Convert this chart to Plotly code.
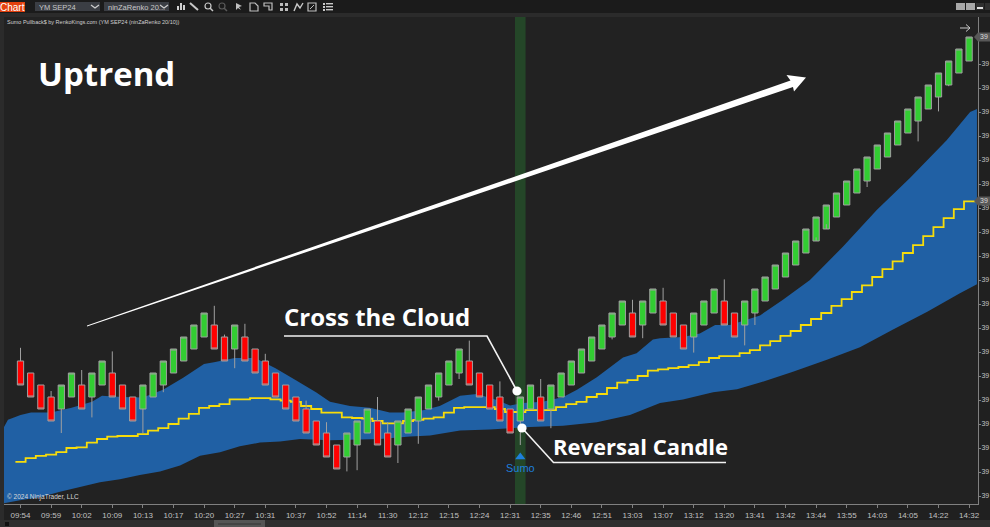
import plotly.graph_objects as go

# ---------- data ----------
time_labels = ["09:54","09:59","10:02","10:09","10:13","10:17","10:20","10:27","10:31","10:37","10:52",
               "11:14","11:30","12:12","12:15","12:24","12:31","12:35","12:46","12:51","13:03","13:07",
               "13:12","13:20","13:41","13:42","13:44","13:55","14:03","14:05","14:22","14:32"]

body_top = [39110,39100,39090,39080,39090,39100,39090,39100,39110,39100,39090,39080,39090,39100,39110,39120,
            39130,39140,39150,39140,39130,39140,39130,39120,39110,39100,39090,39080,39070,39060,39050,39040,
            39050,39060,39070,39060,39050,39060,39070,39080,39090,39100,39110,39120,39110,39100,39090,39080,
            39070,39080,39090,39080,39090,39100,39110,39120,39130,39140,39150,39160,39150,39160,39170,39160,
            39150,39140,39150,39160,39170,39160,39150,39160,39170,39180,39190,39200,39210,39220,39230,39240,
            39250,39260,39270,39280,39290,39300,39310,39320,39330,39340,39350,39360,39370,39380]
bar_is_up = [0,0,0,0,1,1,0,1,1,0,0,0,1,1,1,1,1,1,1,0,0,1,0,0,0,0,0,0,0,0,0,0,
             1,1,1,0,0,1,1,1,1,1,1,1,0,0,0,0,0,1,1,0,1,1,1,1,1,1,1,1,0,1,1,0,
             0,0,1,1,1,0,0,1,1,1,1,1,1,1,1,1,1,1,1,1,1,1,1,1,1,1,1,1,1,1]
brick_size = 20
upper_wicks = {0:39121,3:39085,6:39102.5,9:39118,19:39156,20:39132,22:39141,24:39116,28:39077,30:39059,35:39080,
               36:39059,44:39127,47:39093,51:39095,60:39161,63:39171,69:39178}
lower_wicks = {4:39050,7:39063,12:39050,14:39084,21:39104,32:39018,33:39019,37:39025,39:39041,41:39077,43:39095,
               49:39040,52:39054,58:39128,61:39129,66:39117,71:39123,72:39140,78:39213,79:39224,83:39255,
               88:39293,90:39318,91:39339}

yellow_line = [39026,39029,39031,39032,39034,39037.5,39038,39042,39045,39047,39047.5,39047.5,39049,39052,39054,
               39057.5,39062,39066,39071,39072.5,39074,39078,39078,39079,39079,39078,39077,39076,39072.5,39070,39067,
               39067,39063,39062.5,39062,39060,39058,39058,39060,39061,39062,39063,39067,39071,39071.5,39071.5,39071.5,
               39070,39067.5,39067.5,39069,39069,39069,39071.5,39074,39076,39080,39082.5,39087.5,39092,39094,39097.5,39102,
               39103,39104,39105,39106.5,39109,39112.5,39114,39114,39116.5,39119,39123,39126.5,39131,39135,39140,39145,
               39150,39156,39161.5,39167.5,39173,39180,39186.5,39193,39200,39206.5,39214,39221.5,39229,39236.5,39243]

cloud_upper_x = [-1.62,-1.23,-0.64,0,1.03,2.99,5,7.01,7.99,10,12,13.97,15.95,17.99,18.97,21,23,25,27,28.97,30.34,32.3,
                 34.26,36.2,37.5,39.46,41.1,43.1,44.75,46.7,47.99,49.26,51.2,53.2,54.56,56.5,59.07,60.4,62,62.7,64.95,
                 66.6,68.1,69.56,72.5,74.75,77.4,80.6,83.97,87.2,90.8,93.1,93.77]
cloud_upper = [39055,39061,39063,39065,39067,39067,39071,39076,39081,39080,39079.5,39086,39096,39107.5,39109,39112.5,
               39112.5,39104,39094,39084,39076,39072.5,39071,39067,39067,39069,39072.5,39081,39082.5,39077.5,39073,39075,
               39076,39080,39086,39096.5,39113,39116.5,39128,39129,39130,39133,39140,39140,39148,39161,39177.5,39205,
               39236,39262.5,39294,39317.5,39320]
cloud_lower_x = [-1.62,-0.05,1.91,3.87,5.83,7.79,9.75,11.7,13.68,15.64,17.6,19.56,21.5,23.48,25.44,27.4,30.34,35.25,38.2,
                 40.15,43.1,46,48,49.95,53.2,56.5,59.75,62.7,64.95,67.9,70.25,72.5,75.73,79.06,82.3,85.5,88.9,92.1,93.77]
cloud_lower = [38991.5,38994,38996.5,39001,39005,39009,39011.5,39015,39018,39023,39031,39034,39039,39042,39043,39045,
               39044,39045,39047,39048,39052,39053,39054,39055,39056,39059,39065,39075,39078,39084,39086.5,39092,39101,
               39111,39121.5,39136,39151,39166.5,39174]

price_ticks = [39357.5 - 20 * k for k in range(19)]
signal_bar = 49
signal_price = 39030

# ---------- layout constants ----------
W, H = 990, 527
L, R, T, B = 4, 978, 17, 504
X_RANGE = [(L - 20.5) / 10.2, (R - 20.5) / 10.2]
Y_RANGE = [39380 - (B - 37) / 1.2, 39380 + (37 - T) / 1.2]
X_DOMAIN = [L / W, R / W]
Y_DOMAIN = [1 - B / H, 1 - T / H]

def px(x): return x / W
def py(y): return 1 - y / H

bars = list(range(len(body_top)))
opens, closes, highs, lows = [], [], [], []
for i in bars:
    top, bot = body_top[i], body_top[i] - brick_size
    opens.append(bot if bar_is_up[i] else top)
    closes.append(top if bar_is_up[i] else bot)
    highs.append(upper_wicks.get(i, top))
    lows.append(lower_wicks.get(i, bot))

fig = go.Figure()
fig.add_trace(go.Scatter(x=cloud_upper_x + cloud_lower_x[::-1], y=cloud_upper + cloud_lower[::-1],
                         fill="toself", fillcolor="#2060a4", mode="none", hoverinfo="skip", showlegend=False))
fig.add_trace(go.Scatter(x=[-0.5] + bars + [93.75], y=[yellow_line[0]] + yellow_line + [yellow_line[-1]],
                         mode="lines", line=dict(color="#f7dc0a", width=1.8, shape="hvh"), showlegend=False))
fig.add_trace(go.Candlestick(x=bars, open=opens, high=highs, low=lows, close=closes,
                             xaxis="x2", yaxis="y2", whiskerwidth=0, showlegend=False,
                             increasing=dict(fillcolor="#32cd32", line=dict(color="#a0a0a0", width=1)),
                             decreasing=dict(fillcolor="#ff0000", line=dict(color="#a0a0a0", width=1))))
fig.add_trace(go.Scatter(x=[signal_bar], y=[signal_price], mode="markers+text", xaxis="x2", yaxis="y2",
                         marker=dict(symbol="triangle-up", size=9, color="#1e7fdc"),
                         text=["Sumo"], textposition="bottom center",
                         textfont=dict(family="Liberation Sans", size=11, color="#1e7fdc"), showlegend=False))

shapes = []
def rect(x0, y0, x1, y1, color):
    shapes.append(dict(type="rect", xref="paper", yref="paper", x0=px(x0), x1=px(x1), y0=py(y0), y1=py(y1),
                       fillcolor=color, line=dict(width=0), layer="above"))
def path(points, color=None, line=None, width=1.5, close=False):
    d = "M " + " L ".join(f"{px(x):.5f},{py(y):.5f}" for x, y in points) + (" Z" if close else "")
    shapes.append(dict(type="path", xref="paper", yref="paper", path=d, layer="above",
                       fillcolor=color if color else "rgba(0,0,0,0)",
                       line=dict(color=line if line else "rgba(0,0,0,0)", width=width if line else 0)))
def dot(x, y, r, color):
    shapes.append(dict(type="circle", xref="paper", yref="paper", x0=px(x - r), x1=px(x + r), y0=py(y + r), y1=py(y - r),
                       fillcolor=color, line=dict(width=0), layer="above"))

# highlighted signal bar (behind everything)
shapes.append(dict(type="rect", xref="x", yref="paper", x0=signal_bar - 0.52, x1=signal_bar + 0.52,
                   y0=py(B), y1=py(T), fillcolor="#244628", line=dict(width=0), layer="below"))

# window chrome
rect(0, 0, 990, 13, "#1b1b1b")
rect(0, 13, 990, 17, "#2b2b2b")
rect(0, 13, 4, 520, "#2b2b2b")
rect(0, 520, 990, 527, "#2f2f2f")
rect(214, 520, 265, 527, "#555555")
rect(218, 523, 261, 525, "#444444")
rect(5, 522, 9, 526, "#111111")
rect(0, 2, 25, 12, "#e2410e")
rect(35, 2, 100, 11, "#3b3e44")
rect(104, 2, 169, 11, "#3b3e44")
path([(91, 5), (95, 8), (99, 5)], line="#cfcfcf", width=1.2)
path([(160, 5), (164, 8), (168, 5)], line="#cfcfcf", width=1.2)
# toolbar icons
for bx, by0, by1 in [(177, 6, 10), (180, 3, 10), (183, 5, 10)]:
    rect(bx, by0, bx + 2, by1, "#d0d0d0")
path([(190, 3), (198, 10)], line="#c8c8c8", width=2)
for cx, c in [(208, "#c8c8c8"), (222, "#5a5a5a")]:
    shapes.append(dict(type="circle", xref="paper", yref="paper", x0=px(cx - 3), x1=px(cx + 3), y0=py(9), y1=py(3),
                       line=dict(color=c, width=1.2), layer="above"))
    path([(cx + 2, 8), (cx + 5, 11)], line=c, width=1.5)
path([(236, 3), (236, 10), (238, 8), (241, 10), (239, 7), (242, 6)], color="#c0c0c0", close=True)
path([(250, 3), (255, 3), (258, 6), (258, 11), (250, 11)], line="#c0c0c0", width=1.2, close=True)
path([(264, 3), (272, 3), (272, 10), (269, 10), (269, 6), (264, 6)], line="#c0c0c0", width=1.2, close=True)
rect(280, 3, 283, 6, "#bcbcbc"); rect(285, 3, 288, 6, "#bcbcbc"); rect(280, 8, 283, 11, "#bcbcbc"); rect(285, 8, 288, 11, "#bcbcbc")
path([(294, 11), (297, 4), (300, 8), (303, 3)], line="#c8c8c8", width=1.4)
path([(308, 3), (316, 3), (316, 11), (308, 11)], line="#c0c0c0", width=1.2, close=True)
path([(310, 9), (314, 5)], line="#c0c0c0", width=1)
for ry in (3, 6, 9):
    rect(323, ry, 325, ry + 2, "#c8c8c8")
    rect(326, ry, 333, ry + 1.4, "#c8c8c8")
rect(956, 3, 965, 10, "#a8a8a8"); rect(966, 3, 975, 10, "#a8a8a8")
rect(976, 3, 984, 10, "#303030"); rect(977, 7, 983, 9, "#e0e0e0")
rect(985, 3, 990, 10, "#303030")

# trend arrow
path([(87, 325.5), (790.5, 80.5), (786.5, 75), (806, 77.5), (794, 91.5), (793, 87), (87, 326.5)], color="#ffffff", close=True)

# callouts
path([(284, 336), (487, 336), (517, 391)], line="#f2f2f2", width=1.6)
dot(517, 391, 4.6, "#ffffff")
path([(522, 428), (553.5, 462.5), (726, 462.5)], line="#f2f2f2", width=1.6)
dot(522, 428, 4.6, "#ffffff")

# last-price tags
for ty in (37, 201):
    path([(974, ty), (978, ty - 4.5), (990, ty - 4.5), (990, ty + 4.5), (978, ty + 4.5)], color="#585858", close=True)
# small arrow top right
path([(960, 28), (970, 28)], line="#c8c8c8", width=1)
path([(966, 24.5), (970, 28), (966, 31.5)], line="#c8c8c8", width=1)

def note(x, y, text, size, color, family="Liberation Sans", weight=None, anchor="left"):
    font = dict(family=family, size=size, color=color)
    if weight:
        font["weight"] = weight
    return dict(xref="paper", yref="paper", x=px(x), y=py(y), text=text, showarrow=False, xanchor=anchor,
                yanchor="middle", font=font, borderpad=0)

annotations = [
    note(37, 73, "Uptrend", 33, "#ffffff", "Open Sans", 700),
    note(283, 316.5, "Cross the Cloud", 24, "#ffffff", "Open Sans", 700),
    note(552, 445.5, "Reversal Candle", 22, "#ffffff", "Open Sans", 700),
    note(6, 22, "Sumo Pullback$ by RenkoKings.com (YM SEP24 (ninZaRenko 20/10))", 5.5, "#d0d0d0"),
    note(6, 497, "© 2024 NinjaTrader, LLC", 6.5, "#d8d8d8"),
    note(12.5, 7, "Chart", 10, "#ffffff", anchor="center"),
    note(38, 7, "YM SEP24", 7.5, "#c8c8c8"),
    note(107, 7, "ninZaRenko 20...", 7.5, "#c8c8c8"),
    note(984, 37, "39", 7, "#d8d8d8", anchor="center"),
    note(984, 200, "39", 7, "#d8d8d8", anchor="center"),
]

axis_color = "#808080"
fig.update_layout(
    width=W, height=H,
    margin=dict(l=0, r=0, t=0, b=0, pad=0, autoexpand=False),
    paper_bgcolor="#202020", plot_bgcolor="#222222",
    showlegend=False, boxgap=0.12, hovermode=False,
    shapes=shapes, annotations=annotations,
    xaxis=dict(domain=X_DOMAIN, range=X_RANGE, showgrid=False, zeroline=False, tickmode="array",
               tickvals=bars[::3], ticktext=time_labels, ticks="outside", ticklen=3, tickcolor=axis_color,
               tickfont=dict(family="Liberation Sans", size=8, color="#c0c0c0"),
               showline=True, linecolor=axis_color, linewidth=1, rangeslider=dict(visible=False)),
    yaxis=dict(domain=Y_DOMAIN, range=Y_RANGE, side="right", showgrid=False, zeroline=False, tickmode="array",
               tickvals=price_ticks, ticktext=["39"] * len(price_ticks), ticks="outside", ticklen=2,
               ticklabelstandoff=-1, tickcolor=axis_color,
               tickfont=dict(family="Liberation Sans", size=7, color="#c0c0c0"),
               showline=True, linecolor=axis_color, linewidth=1),
    xaxis2=dict(domain=X_DOMAIN, range=X_RANGE, overlaying="x", anchor="y2", visible=False, rangeslider=dict(visible=False)),
    yaxis2=dict(domain=Y_DOMAIN, range=Y_RANGE, overlaying="y", anchor="x2", visible=False),
)

fig.write_html("out.html", config=dict(displayModeBar=False),
               post_script="document.body.style.margin='0';document.body.style.overflow='hidden';")
